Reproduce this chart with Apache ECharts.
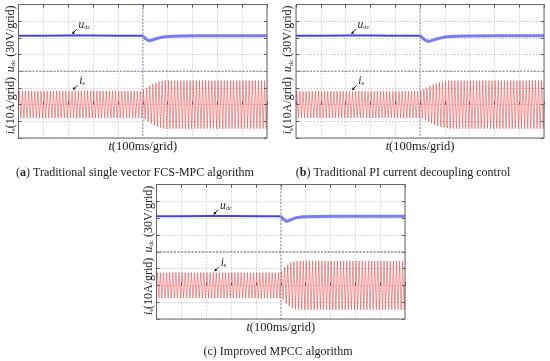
<!DOCTYPE html>
<html><head><meta charset="utf-8">
<script src="https://cdn.jsdelivr.net/npm/echarts@6/dist/echarts.min.js"></script>
<style>html,body{margin:0;padding:0;background:#fff}#c{width:550px;height:361px}</style>
</head><body><div id="c"></div>
<script>
// ---- scales (oscilloscope graticule) ----
const timeMin = 0, timeMax = 1000, timeGrid = 100;   // ms, 100 ms/grid
const udcMin = 240, udcMax = 360, udcGrid = 30;      // V, 30 V/grid
const isMin = -20, isMax = 20, isGrid = 10;          // A, 10 A/grid
const cycleMs = 12.5;                                // one current period on the trace

// ---- captions ----
const capLetters = ['a', 'b', 'c'];
const capBold = [true, true, false];
const capTexts = [' Traditional single vector FCS-MPC algorithm',
                  ' Traditional PI current decoupling control',
                  ' Improved MPCC algorithm'];

// ---- DC-link voltage u_dc (time ms, value V) ----
const udcTimeA = [0, 100, 200, 300, 400, 500, 510, 522, 535, 550, 570, 590, 620, 660, 720, 800, 900, 1000];
const udcValA  = [304, 304, 304.2, 304.2, 304, 304, 299, 295, 295.8, 298, 300.5, 302, 303, 303.4, 303.6, 303.8, 303.8, 303.8];
const udcTimeB = [0, 100, 200, 300, 400, 500, 510, 520, 533, 550, 570, 600, 640, 700, 800, 900, 1000];
const udcValB  = [304, 304, 304.1, 304.1, 304, 304, 300, 296, 293.5, 295.5, 298.5, 301.5, 303, 303.5, 303.8, 303.8, 303.8];
const udcTimeC = [0, 100, 200, 300, 400, 500, 508, 516, 524, 540, 560, 590, 640, 720, 800, 900, 1000];
const udcValC  = [303.5, 303.5, 303.6, 303.6, 303.5, 303.5, 299, 295.5, 294, 297, 300.5, 302.5, 303, 303.2, 303.2, 303.2, 303.2];

// ---- phase current i_s: peak amplitude of each 12.5 ms cycle (A) ----
const isAmpA = [
  8.1,8.1,8.1,8.1,8.1,8.1,8.1,8.1,8.1,8.1,
  8.1,8.1,8.1,8.1,8.1,8.1,8.1,8.1,8.1,8.1,
  8.1,8.1,8.1,8.1,8.1,8.1,8.1,8.1,8.1,8.1,
  8.1,8.1,8.1,8.1,8.1,8.1,8.1,8.1,8.1,8.1,
  8.8,10.0,11.3,12.5,13.2,13.8,14.2,14.4,14.4,14.4,
  14.4,14.4,14.4,14.4,14.4,14.4,14.4,14.4,14.4,14.4,
  14.4,14.4,14.4,14.4,14.4,14.4,14.4,14.4,14.4,14.4,
  14.4,14.4,14.4,14.4,14.4,14.4,14.4,14.4,14.4,14.4];
const isAmpB = [
  8.0,8.0,8.0,8.0,8.0,8.0,8.0,8.0,8.0,8.0,
  8.0,8.0,8.0,8.0,8.0,8.0,8.0,8.0,8.0,8.0,
  8.0,8.0,8.0,8.0,8.0,8.0,8.0,8.0,8.0,8.0,
  8.0,8.0,8.0,8.0,8.0,8.0,8.0,8.0,8.0,8.0,
  8.4,9.4,10.3,11.2,12.1,12.8,13.4,13.8,14.1,14.4,
  14.4,14.4,14.4,14.4,14.4,14.4,14.4,14.4,14.4,14.4,
  14.4,14.4,14.4,14.4,14.4,14.4,14.4,14.4,14.4,14.4,
  14.4,14.4,14.4,14.4,14.4,14.4,14.4,14.4,14.4,14.4];
const isAmpC = [
  7.6,7.6,7.6,7.6,7.6,7.6,7.6,7.6,7.6,7.6,
  7.6,7.6,7.6,7.6,7.6,7.6,7.6,7.6,7.6,7.6,
  7.6,7.6,7.6,7.6,7.6,7.6,7.6,7.6,7.6,7.6,
  7.6,7.6,7.6,7.6,7.6,7.6,7.6,7.6,7.6,7.6,
  8.5,10.8,12.3,13.5,14.1,14.4,14.5,14.5,14.5,14.5,
  14.5,14.5,14.5,14.5,14.5,14.5,14.5,14.5,14.5,14.5,
  14.5,14.5,14.5,14.5,14.5,14.5,14.5,14.5,14.5,14.5,
  14.5,14.5,14.5,14.5,14.5,14.5,14.5,14.5,14.5,14.5];
const stepTime = 500;

// ---- annotation anchors (time ms) ----
const udcNoteT = [215, 222, 229];
const isNoteT = [218, 225, 232];

// ---- layout ----
const panels = [
  {left: 18.5, top: 4.5, width: 248.5, height: 133.5, capX: 135, capY: 173},
  {left: 296, top: 4.5, width: 248, height: 133.5, capX: 403, capY: 173},
  {left: 156.5, top: 184.5, width: 248.5, height: 134.5, capX: 278, capY: 352}
];
const udcT = [udcTimeA, udcTimeB, udcTimeC];
const udcV = [udcValA, udcValB, udcValC];
const isAmp = [isAmpA, isAmpB, isAmpC];

const chart = echarts.init(document.getElementById('c'), null, {renderer: 'canvas'});
const grids = [], xAxes = [], yAxes = [], series = [];
const tickStyle = {show: true, inside: true, length: 3, lineStyle: {color: '#555', width: 1}};
const splitStyle = {show: true, lineStyle: {color: '#bcbcbc', type: [1, 2], width: 1}};

panels.forEach((p, i) => {
  const hh = p.height / 2;
  [0, 1].forEach(h => {
    const g = 2 * i + h;
    grids.push({left: p.left, top: p.top + h * hh, width: p.width, height: hh});
    xAxes.push({gridIndex: g, type: 'value', min: timeMin, max: timeMax, interval: timeGrid,
      position: h === 0 ? 'top' : 'bottom', axisLine: {show: false}, axisLabel: {show: false},
      axisTick: tickStyle, splitLine: splitStyle});
    const mn = h === 0 ? udcMin : isMin, mx = h === 0 ? udcMax : isMax, iv = h === 0 ? udcGrid : isGrid;
    yAxes.push({gridIndex: g, type: 'value', min: mn, max: mx, interval: iv, position: 'left',
      axisLine: {show: false}, axisLabel: {show: false}, axisTick: tickStyle, splitLine: splitStyle});
    yAxes.push({gridIndex: g, type: 'value', min: mn, max: mx, interval: iv, position: 'right',
      axisLine: {show: false}, axisLabel: {show: false}, axisTick: tickStyle, splitLine: {show: false}});
  });
  // u_dc
  const pre = [], post = [];
  udcT[i].forEach((t, k) => {
    if (t <= stepTime) pre.push([t, udcV[i][k]]);
    if (t >= stepTime) post.push([t, udcV[i][k]]);
  });
  series.push({type: 'line', xAxisIndex: 2 * i, yAxisIndex: 4 * i, data: pre, showSymbol: false,
    silent: true, lineStyle: {color: '#4444e6', width: 2}, z: 5});
  series.push({type: 'line', xAxisIndex: 2 * i, yAxisIndex: 4 * i, data: post, showSymbol: false,
    silent: true, lineStyle: {color: '#6e6ef0', width: 3, opacity: 0.9}, z: 5});
  // i_s
  const cur = [[timeMin, 0]];
  isAmp[i].forEach((a, k) => {
    cur.push([k * cycleMs + cycleMs / 4, a]);
    cur.push([k * cycleMs + 3 * cycleMs / 4, -a]);
  });
  cur.push([timeMax, 0]);
  series.push({type: 'line', xAxisIndex: 2 * i + 1, yAxisIndex: 4 * i + 2, data: cur, showSymbol: false,
    silent: true, lineStyle: {color: '#ee3030', width: 0.7, opacity: 0.72}, z: 4});
});

chart.setOption({animation: false, backgroundColor: '#fff', grid: grids, xAxis: xAxes, yAxis: yAxes, series: series});

const serif = 'Liberation Serif';
const rich = {
  i: {fontFamily: serif, fontStyle: 'italic', fontSize: 12.5, lineHeight: 14, fill: '#222'},
  s: {fontFamily: serif, fontSize: 7, lineHeight: 7, verticalAlign: 'bottom', fill: '#222'},
  n: {fontFamily: serif, fontSize: 12.5, lineHeight: 14, fill: '#222'},
  yi: {fontFamily: serif, fontStyle: 'italic', fontSize: 12, lineHeight: 13, fill: '#222'},
  ys: {fontFamily: serif, fontSize: 7, lineHeight: 7, verticalAlign: 'bottom', fill: '#222'},
  yn: {fontFamily: serif, fontSize: 12, lineHeight: 13, fill: '#222'},
  b: {fontFamily: serif, fontSize: 12, fontWeight: 'bold', lineHeight: 14, fill: '#222'},
  c: {fontFamily: serif, fontSize: 12, lineHeight: 14, fill: '#222'},
  ai: {fontFamily: serif, fontStyle: 'italic', fontSize: 11.5, lineHeight: 12, fill: '#222'},
  as: {fontFamily: serif, fontSize: 6.5, lineHeight: 6, verticalAlign: 'bottom', fill: '#222'}
};
const gfx = [];
function px(g, yi, x, y) { return chart.convertToPixel({xAxisIndex: g, yAxisIndex: yi}, [x, y]); }
function arrowNote(hx, hy, tag, sub) {
  const tx = hx + 5, ty = hy - 5;
  gfx.push({type: 'line', shape: {x1: tx, y1: ty, x2: hx + 1.5, y2: hy - 1.5}, style: {stroke: '#111', lineWidth: 0.9}, z: 20});
  gfx.push({type: 'polygon', shape: {points: [[hx, hy], [hx + 3.2, hy - 1], [hx + 1, hy - 3.2]]}, style: {fill: '#111'}, z: 20});
  gfx.push({type: 'text', x: tx + 1.5, y: ty + 2, z: 20,
    style: {text: '{ai|' + tag + '}{as|' + sub + '}', rich: rich, align: 'left', verticalAlign: 'bottom'}});
}
panels.forEach((p, i) => {
  const tl = px(2 * i, 4 * i, timeMin, udcMax);
  const br = px(2 * i + 1, 4 * i + 2, timeMax, isMin);
  const mid = px(2 * i, 4 * i, timeMin, udcMin);
  const cx = px(2 * i, 4 * i, stepTime, udcMax)[0];
  gfx.push({type: 'line', shape: {x1: tl[0], y1: mid[1], x2: br[0], y2: mid[1]}, style: {stroke: '#a0a0a0', lineWidth: 1.5, lineDash: [2, 1.5]}, z: 10});
  gfx.push({type: 'line', shape: {x1: cx, y1: tl[1], x2: cx, y2: br[1]}, style: {stroke: '#8890b0', lineWidth: 1, lineDash: [2, 1.5]}, z: 10});
  gfx.push({type: 'rect', shape: {x: tl[0], y: tl[1], width: br[0] - tl[0], height: br[1] - tl[1]}, style: {fill: null, stroke: '#666', lineWidth: 1}, z: 11});
  const lx = tl[0] - 8;
  gfx.push({type: 'text', x: lx, y: (tl[1] + mid[1]) / 2 + 1, rotation: Math.PI / 2, z: 20,
    style: {text: '{yi|u}{ys|dc}{yn| (30V/grid)}', rich: rich, align: 'center', verticalAlign: 'middle'}});
  gfx.push({type: 'text', x: lx, y: (mid[1] + br[1]) / 2 + 1, rotation: Math.PI / 2, z: 20,
    style: {text: '{yi|i}{ys|s}{yn|(10A/grid)}', rich: rich, align: 'center', verticalAlign: 'middle'}});
  gfx.push({type: 'text', x: (tl[0] + br[0]) / 2, y: br[1] + 9, z: 20,
    style: {text: '{i|t}{n|(100ms/grid)}', rich: rich, align: 'center', verticalAlign: 'middle'}});
  const letter = capBold[i] ? '{b|' + capLetters[i] + '}' : '{c|' + capLetters[i] + '}';
  gfx.push({type: 'text', x: p.capX, y: p.capY, z: 20,
    style: {text: '{c|(}' + letter + '{c|)' + capTexts[i] + '}', rich: rich, align: 'center', verticalAlign: 'middle'}});
  // annotations
  const uv = udcV[i][0];
  const up = px(2 * i, 4 * i, udcNoteT[i], uv);
  arrowNote(up[0], up[1] - 1.5, 'u', 'dc');
  const ip = px(2 * i + 1, 4 * i + 2, isNoteT[i], isAmp[i][0]);
  arrowNote(ip[0], ip[1] - 1, 'i', 's');
});
chart.setOption({graphic: gfx});
</script></body></html>
